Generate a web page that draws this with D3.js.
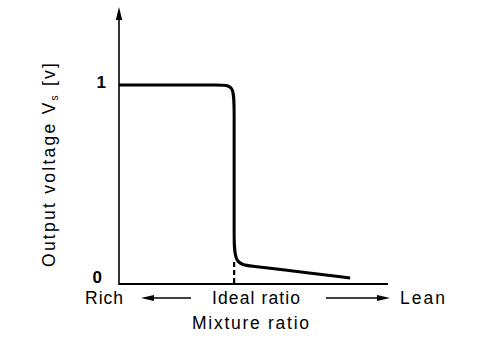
<!DOCTYPE html>
<html>
<head>
<meta charset="utf-8">
<script src="https://cdn.jsdelivr.net/npm/d3@7"></script>
<style>
  html, body { margin: 0; padding: 0; background: #fff; }
  svg { display: block; }
  text { font-family: "Liberation Sans", Arial, sans-serif; fill: #000; }
</style>
</head>
<body>
<svg id="chart" width="496" height="352"></svg>
<script>
// Mixture ratio (arbitrary units, rich -> lean) and output voltage [V]
const mixture = [0, 2.0, 3.75, 4.28, 4.28, 4.28, 4.28, 4.28, 4.9, 6.0, 8.59];
const voltage = [1.0, 1.0, 1.0, 1.0, 0.88, 0.5, 0.25, 0.1, 0.09, 0.074, 0.030];
const idealRatio = 4.28;
const idealVoltage = 0.11;
const yTicks = [0, 1];
const xDomain = [0, 10];
const yDomain = [0, 1];
const xLabels = ["Rich", "Ideal ratio", "Lean"];
const xTitle = "Mixture ratio";

const svg = d3.select("#chart");
const x = d3.scaleLinear().domain(xDomain).range([119, 388]);
const y = d3.scaleLinear().domain(yDomain).range([284, 85]);

// Axes
svg.append("line").attr("x1", x(0)).attr("x2", x(0)).attr("y1", y(0) + 1).attr("y2", 16)
  .attr("stroke", "#000").attr("stroke-width", 1.6);
svg.append("path").attr("d", `M${x(0)},7 L${x(0) - 3.2},20 L${x(0) + 3.2},20 Z`).attr("fill", "#000");
svg.append("line").attr("x1", x(0)).attr("x2", x(10)).attr("y1", y(0)).attr("y2", y(0))
  .attr("stroke", "#000").attr("stroke-width", 2);

// Y tick labels
svg.selectAll(".ytick").data(yTicks).enter().append("text")
  .attr("x", d => d === 1 ? 106 : 102)
  .attr("y", d => y(d) + (d === 1 ? 3 : -1))
  .attr("text-anchor", "end")
  .attr("font-size", 17).attr("font-weight", "bold")
  .text(d => d);

// Ideal ratio dashed marker
svg.append("line").attr("x1", x(idealRatio)).attr("x2", x(idealRatio))
  .attr("y1", y(idealVoltage)).attr("y2", y(0))
  .attr("stroke", "#000").attr("stroke-width", 2.2).attr("stroke-dasharray", "5,3");

// Curve
const pts = mixture.map((m, i) => [m, voltage[i]]);
svg.append("path").datum(pts)
  .attr("d", d3.line().x(d => x(d[0])).y(d => y(d[1])).curve(d3.curveBasis))
  .attr("fill", "none").attr("stroke", "#000").attr("stroke-width", 3).attr("stroke-linejoin", "round");

// Y title
const yt = svg.append("text").attr("transform", "translate(55,165) rotate(-90)")
  .attr("text-anchor", "middle").attr("font-size", 17.5)
  .attr("textLength", 204).attr("lengthAdjust", "spacing");
yt.append("tspan").text("Output voltage V");
yt.append("tspan").attr("font-size", 10).attr("dy", 3).text("s");
yt.append("tspan").attr("dy", -3).text(" [v]");

// X labels
const labelPos = [[85, 38], [212, 88], [400, 45]];
svg.selectAll(".xl").data(xLabels).enter().append("text")
  .attr("x", (d, i) => labelPos[i][0]).attr("y", 304)
  .attr("font-size", 17.5)
  .attr("textLength", (d, i) => labelPos[i][1]).attr("lengthAdjust", "spacing")
  .text(d => d);

// Direction arrows
svg.append("line").attr("x1", 150).attr("x2", 191).attr("y1", 298).attr("y2", 298).attr("stroke", "#000").attr("stroke-width", 1.5);
svg.append("path").attr("d", "M141,298 L154,295 L154,301 Z").attr("fill", "#000");
svg.append("line").attr("x1", 326).attr("x2", 380).attr("y1", 298).attr("y2", 298).attr("stroke", "#000").attr("stroke-width", 1.5);
svg.append("path").attr("d", "M390,298 L377,295 L377,301 Z").attr("fill", "#000");

// X title
svg.append("text").attr("x", 192).attr("y", 329).attr("font-size", 17.5)
  .attr("textLength", 117).attr("lengthAdjust", "spacing").text(xTitle);
</script>
</body>
</html>
